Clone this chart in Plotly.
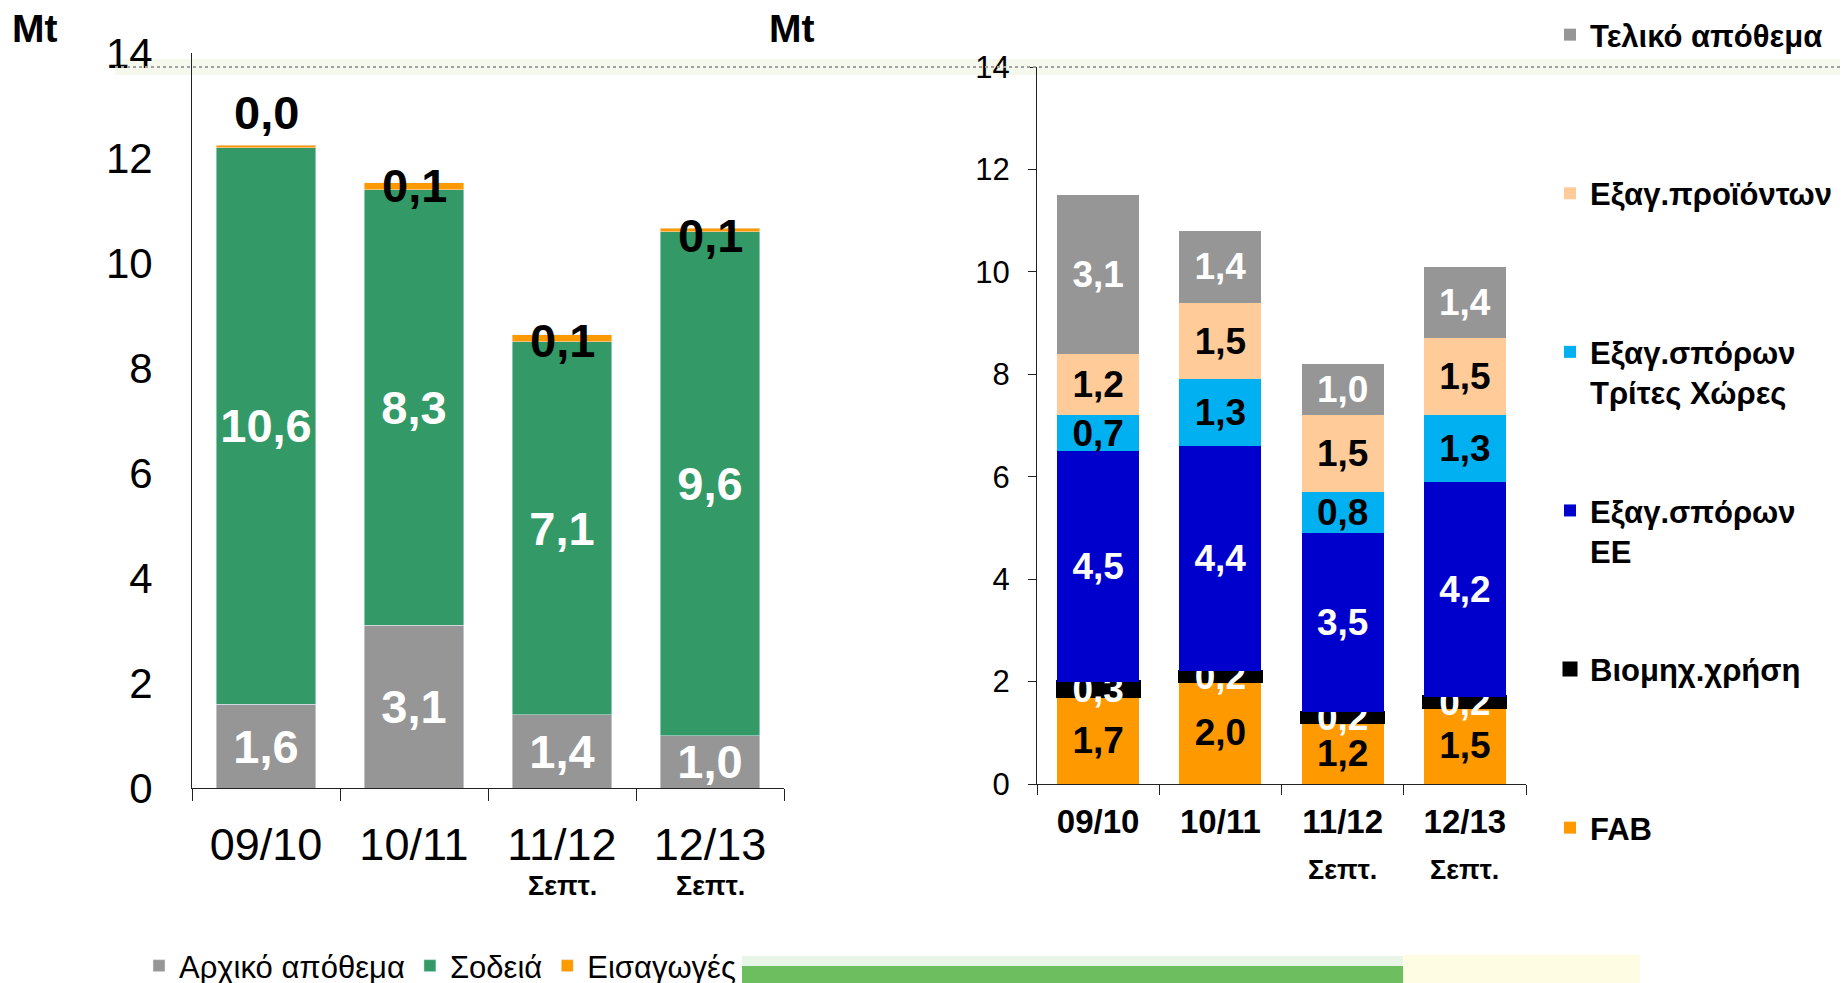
import plotly.graph_objects as go

# data
seasons = ["09/10", "10/11", "11/12", "12/13"]
season_notes = ["", "", "Σεπτ.", "Σεπτ."]

# left chart: supply (Mt)
opening_stock = [1.6, 3.1, 1.4, 1.0]
harvest = [10.6, 8.3, 7.1, 9.6]
imports = [0.04, 0.13, 0.13, 0.06]

# right chart: use (Mt)
fab = [1.7, 2.0, 1.2, 1.5]
industrial = [0.3, 0.2, 0.2, 0.2]
exp_seeds_eu = [4.5, 4.4, 3.5, 4.2]
exp_seeds_third = [0.7, 1.3, 0.8, 1.3]
exp_products = [1.2, 1.5, 1.5, 1.5]
closing_stock = [3.1, 1.4, 1.0, 1.4]

FONT = "Liberation Sans, Arial, sans-serif"
W, H = 1848, 983
PAGE_PAD = 8  # default body margin of the html page


def fmt(vals):
    return [f"{v:.1f}".replace(".", ",") for v in vals]


def px_x(p):
    return (p - PAGE_PAD) / W


def px_y(p):
    return 1 - (p - PAGE_PAD) / H


fig = go.Figure()

left = [
    ("Αρχικό απόθεμα", opening_stock, "#969696", "white", True),
    ("Σοδειά", harvest, "#339966", "white", True),
    ("Εισαγωγές", imports, "#FF9900", "black", False),
]
for name, vals, color, tcolor, show_text in left:
    fig.add_trace(go.Bar(
        x=seasons, y=vals, name=name, marker_color=color,
        text=fmt(vals) if show_text else None,
        textposition="inside", insidetextanchor="middle",
        constraintext="none", textangle=0,
        insidetextfont=dict(family=FONT, size=47, color=tcolor, weight="bold"),
        xaxis="x", yaxis="y", legend="legend2",
    ))

right = [
    ("FAB", fab, "#FF9900", "black"),
    ("Βιομηχ.χρήση", industrial, "#000000", "white"),
    ("Εξαγ.σπόρων<br>ΕΕ", exp_seeds_eu, "#0000CC", "white"),
    ("Εξαγ.σπόρων<br>Τρίτες Χώρες", exp_seeds_third, "#00B0F0", "black"),
    ("Εξαγ.προϊόντων", exp_products, "#FFCC99", "black"),
    ("Τελικό απόθεμα", closing_stock, "#969696", "white"),
]
for i, (name, vals, color, tcolor) in enumerate(right):
    legend_name = name if "<br>" in name else name + "<br> "
    fig.add_trace(go.Bar(
        x=seasons, y=vals, name=legend_name, marker_color=color,
        marker_line=dict(color="black", width=3 if color == "#000000" else 0),
        text=fmt(vals), textposition="inside", insidetextanchor="middle",
        constraintext="none", textangle=0,
        insidetextfont=dict(family=FONT, size=37, color=tcolor, weight="bold"),
        xaxis="x2", yaxis="y2", legend="legend", legendgroup=f"g{i}",
        legendrank=100 - i,
    ))

# import labels on top of the left stacks
totals = [a + b + c for a, b, c in zip(opening_stock, harvest, imports)]
shifts = [33, -3, -6, -7]
for s, t, v, sh in zip(seasons, totals, imports, shifts):
    fig.add_annotation(
        x=s, y=t, xref="x", yref="y", text=fmt([v])[0], showarrow=False,
        yshift=sh, yanchor="middle",
        font=dict(family=FONT, size=47, color="black", weight="bold"),
    )

# "Σεπτ." notes under category labels
for s, note in zip(seasons, season_notes):
    if note:
        fig.add_annotation(x=s, y=px_y(886), xref="x", yref="paper", text=note,
                           showarrow=False, yanchor="middle",
                           font=dict(family=FONT, size=27, color="black", weight="bold"))
        fig.add_annotation(x=s, y=px_y(870), xref="x2", yref="paper", text=note,
                           showarrow=False, yanchor="middle",
                           font=dict(family=FONT, size=27, color="black", weight="bold"))

for xp in (10, 767):
    fig.add_annotation(x=px_x(xp), y=px_y(29), xref="paper", yref="paper", text="Mt",
                       showarrow=False, xanchor="left", yanchor="middle",
                       font=dict(family=FONT, size=39, color="black", weight="bold"))

# slide decorations: dotted line at the top, green band at the bottom
fig.add_shape(type="rect", xref="paper", yref="paper", x0=px_x(115), x1=1,
              y0=px_y(75), y1=px_y(59), fillcolor="rgba(235,242,218,0.5)",
              line_width=0, layer="below")
fig.add_shape(type="line", xref="paper", yref="paper", x0=px_x(115), x1=1,
              y0=px_y(67), y1=px_y(67), line=dict(color="#a0a0a0", width=2, dash="dot"))
fig.add_shape(type="rect", xref="paper", yref="paper", x0=px_x(742), x1=px_x(1403),
              y0=px_y(966), y1=px_y(956), fillcolor="rgba(215,240,215,0.6)",
              line_width=0, layer="below")
fig.add_shape(type="rect", xref="paper", yref="paper", x0=px_x(742), x1=px_x(1403),
              y0=px_y(990), y1=px_y(966), fillcolor="#6DBE5E", line_width=0, layer="below")
fig.add_shape(type="rect", xref="paper", yref="paper", x0=px_x(1403), x1=px_x(1640),
              y0=px_y(990), y1=px_y(955), fillcolor="rgba(255,250,210,0.6)",
              line_width=0, layer="below")

axis_line = dict(showline=True, linecolor="#222", linewidth=1, showgrid=False,
                 zeroline=False)

fig.update_layout(
    width=W, height=H,
    margin=dict(l=0, r=0, t=0, b=0, autoexpand=False),
    paper_bgcolor="white", plot_bgcolor="white",
    barmode="stack", bargap=0.33,
    font=dict(family=FONT, color="black"),
    xaxis=dict(domain=[px_x(192), px_x(784)], anchor="y", type="category",
               ticks="outside", tickson="boundaries", ticklen=12, tickcolor="#222",
               ticklabelstandoff=17, automargin=False,
               tickfont=dict(family=FONT, size=45), **axis_line),
    yaxis=dict(domain=[px_y(788), px_y(53)], anchor="x", range=[0, 14], dtick=2,
               ticks="", ticklabelstandoff=30, automargin=False,
               tickfont=dict(family=FONT, size=42), **axis_line),
    xaxis2=dict(domain=[px_x(1037), px_x(1526)], anchor="y2", type="category",
                ticks="outside", tickson="boundaries", ticklen=10, tickcolor="#222",
                ticklabelstandoff=8, automargin=False,
                tickfont=dict(family=FONT, size=33, weight="bold"), **axis_line),
    yaxis2=dict(domain=[px_y(784), px_y(67)], anchor="x2", range=[0, 14], dtick=2,
                ticks="outside", ticklen=8, tickcolor="#222", ticklabelstandoff=12,
                automargin=False,
                tickfont=dict(family=FONT, size=31), **axis_line),
    legend=dict(x=px_x(1550), y=px_y(8), xanchor="left", yanchor="top",
                traceorder="grouped", tracegroupgap=75, valign="top",
                maxheight=1200,
                font=dict(family=FONT, size=31, color="black", weight="bold"),
                bgcolor="rgba(0,0,0,0)"),
    legend2=dict(orientation="h", x=px_x(139), y=px_y(966), xanchor="left",
                 yanchor="middle", traceorder="normal",
                 font=dict(family=FONT, size=31, color="black"),
                 bgcolor="rgba(0,0,0,0)"),
    showlegend=True,
)

fig.write_html("out.html")
